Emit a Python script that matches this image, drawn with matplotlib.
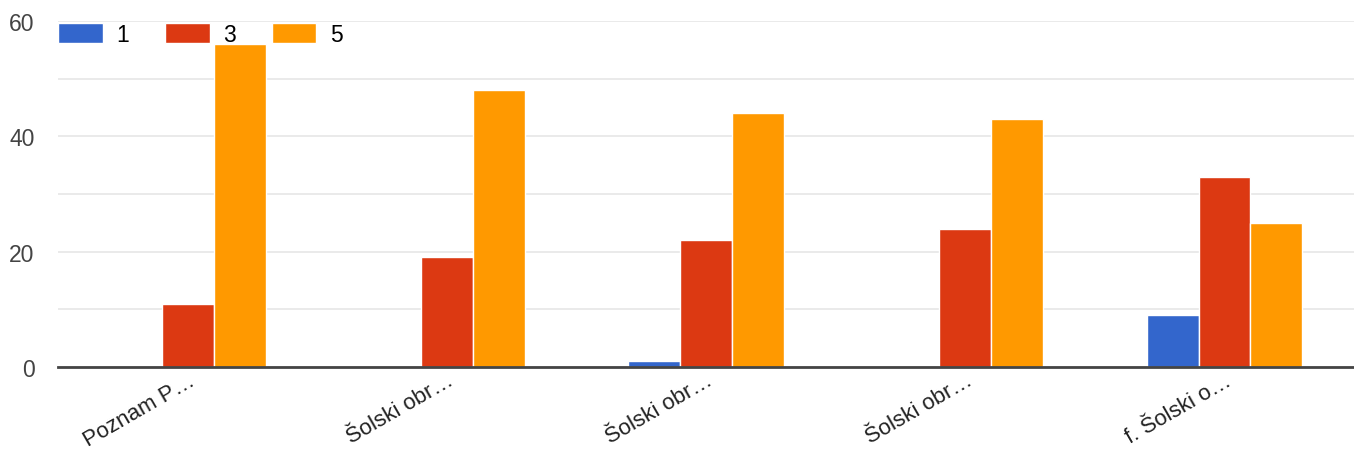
import numpy as np
import matplotlib.pyplot as plt

plt.rcParams['font.family'] = ['Liberation Sans', 'DejaVu Sans']

# survey answers per question, grouped by rating
categories = ["Poznam P…", "Šolski obr…", "Šolski obr…", "Šolski obr…", "f. Šolski o…"]
ratings = ["1", "3", "5"]
count_1 = [0, 0, 1, 0, 9]
count_3 = [11, 19, 22, 24, 33]
count_5 = [56, 48, 44, 43, 25]
colors = ["#3366cc", "#dc3912", "#ff9900"]

fig = plt.figure(figsize=(13.54, 4.52), dpi=100)
ax = fig.add_axes([0.043, 0.186, 0.957, 0.765])

x = np.arange(len(categories))
width = 0.2
for i, (vals, lab, col) in enumerate(zip([count_1, count_3, count_5], ratings, colors)):
    ax.bar(x + (i - 1) * width, vals, width, color=col, label=lab,
           edgecolor="white", linewidth=1.0, zorder=3)

ax.set_xlim(-0.5, len(categories) - 0.5)
ax.set_ylim(0, 60)
ax.set_yticks([0, 20, 40, 60])
ax.set_yticks(np.arange(0, 61, 10), minor=True)
ax.grid(axis="y", which="both", color="#e6e6e6", linewidth=1.2, zorder=0)

for s in ["top", "right", "left"]:
    ax.spines[s].set_visible(False)
ax.spines["bottom"].set_color("#444444")
ax.spines["bottom"].set_linewidth(2)
ax.spines["bottom"].set_zorder(4)

ax.tick_params(axis="y", which="both", length=0, labelsize=16.5, labelcolor="#444444", pad=17)
ax.tick_params(axis="x", length=0, labelsize=16, labelcolor="#222222", pad=2)
ax.set_xticks(x)
ax.set_xticklabels(categories, rotation=30, ha="right", rotation_mode="anchor")

ax.legend(loc="upper left", bbox_to_anchor=(0.0, 0.995), ncol=3, frameon=False,
          fontsize=16.5, handlelength=1.95, handleheight=1.0, handletextpad=0.6,
          columnspacing=1.55, borderaxespad=0, borderpad=0)

fig.savefig("out.png", dpi=100)
